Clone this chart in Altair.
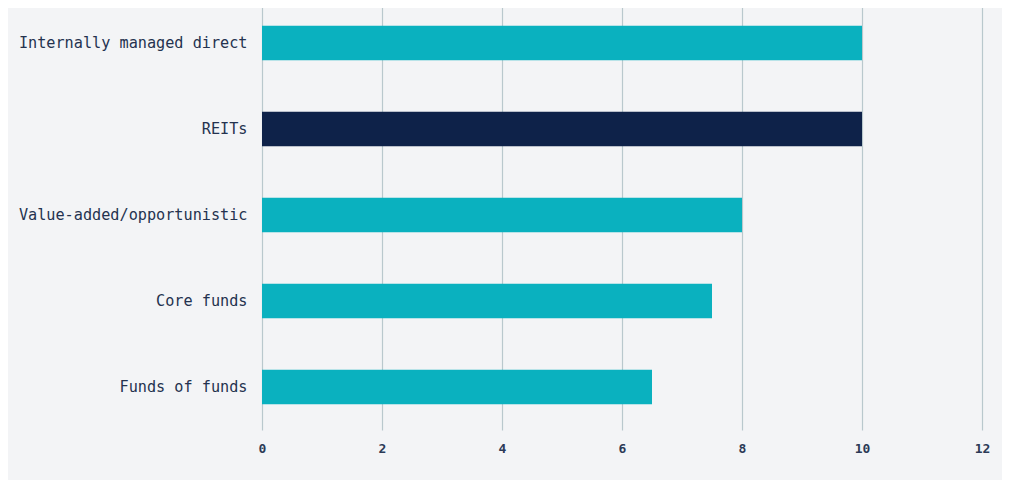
import altair as alt
import pandas as pd

categories = ["Internally managed direct", "REITs", "Value-added/opportunistic", "Core funds", "Funds of funds"]
values = [10, 10, 8, 7.5, 6.5]
highlight = ["no", "yes", "no", "no", "no"]

df = pd.DataFrame({"category": categories, "value": values, "hl": highlight})

chart = alt.Chart(df).mark_bar().encode(
    y=alt.Y("category:N", sort=categories, title=None,
            scale=alt.Scale(paddingInner=0.6, paddingOuter=0.3),
            axis=alt.Axis(ticks=False, domain=False, grid=False, labelPadding=15,
                          labelLimit=400,
                          labelFont="DejaVu Sans Mono", labelFontSize=15.2,
                          labelColor="#24324f")),
    x=alt.X("value:Q", title=None, scale=alt.Scale(domain=[0, 12], nice=False),
            axis=alt.Axis(values=[0, 2, 4, 6, 8, 10, 12], ticks=False, domain=False,
                          grid=True, gridColor="#b9c8cd", gridWidth=1.2,
                          labelFlush=False,
                          labelPadding=12, labelFont="DejaVu Sans Mono",
                          labelFontSize=13, labelFontWeight="bold", labelColor="#2c3a56")),
    color=alt.Color("hl:N", scale=alt.Scale(domain=["no", "yes"], range=["#0ab1bf", "#0e2249"]),
                    legend=None),
).properties(
    width=720, height=430,
    background="#f3f4f6",
    padding={"left": 254, "top": -8, "right": 20, "bottom": 50},
    autosize=alt.AutoSizeParams(type="none"),
).configure_view(stroke=None)

chart.save("out.html", embed_options={"renderer": "svg", "actions": False})
